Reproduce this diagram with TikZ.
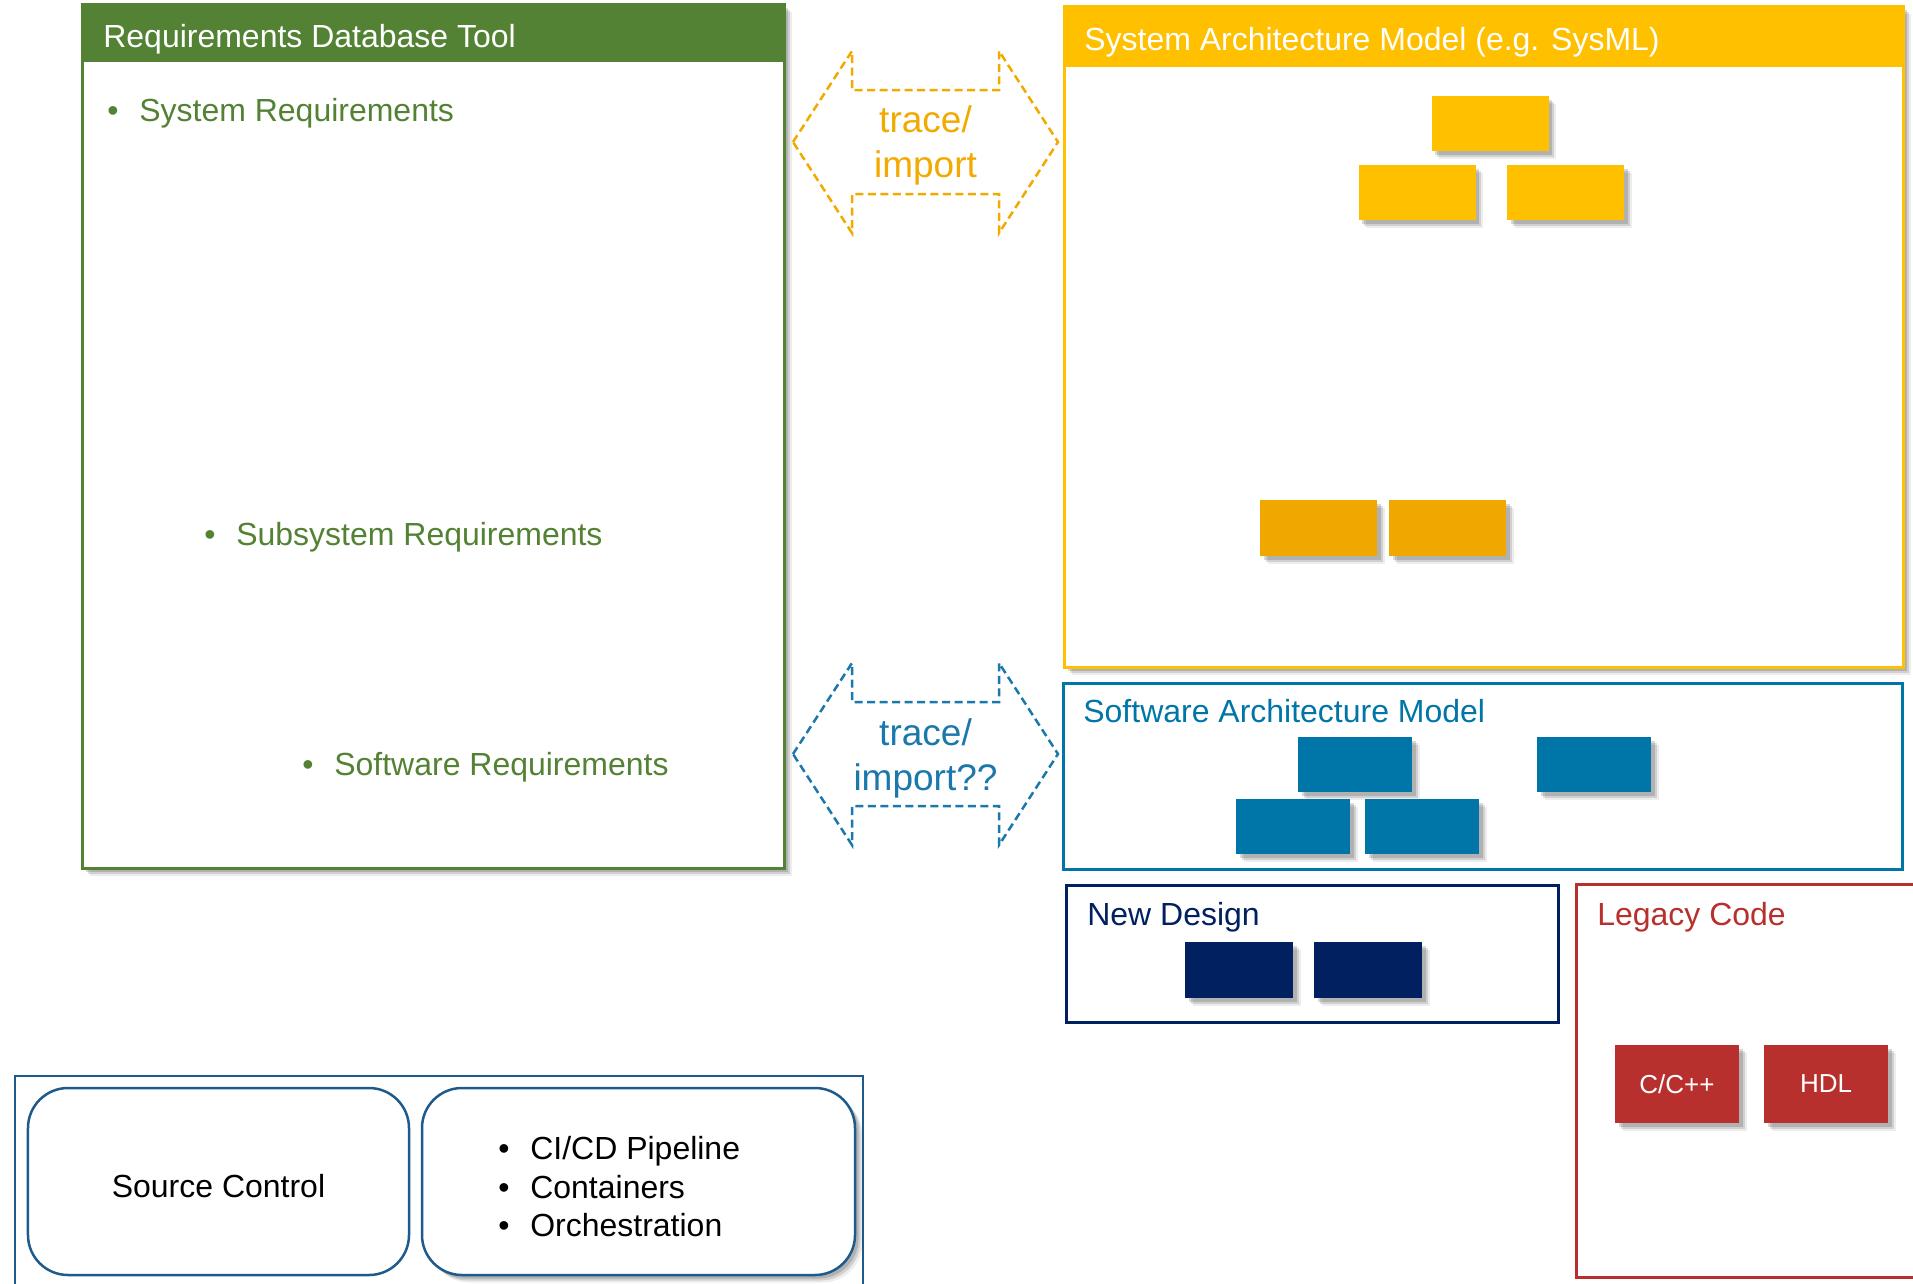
\documentclass[tikz,border=0pt]{standalone}
\usepackage{fontspec}
\setmainfont{Liberation Sans}
\usetikzlibrary{shadows}

\definecolor{reqgreen}{HTML}{548235}
\definecolor{sysyellow}{HTML}{FFC000}
\definecolor{sysorange}{HTML}{F0A800}
\definecolor{traceorange}{HTML}{F2A900}
\definecolor{swblue}{HTML}{0075A8}
\definecolor{traceblue}{HTML}{1A78AA}
\definecolor{navy}{HTML}{002060}
\definecolor{legacyred}{HTML}{B8302E}
\definecolor{opsblue}{HTML}{1F5A8C}

\newcommand{\bul}{\makebox[6.4mm][l]{\textbullet}}

\tikzset{
    softshadow/.style={
        drop shadow={shadow xshift=1.5mm, shadow yshift=-1.5mm, opacity=0.07, fill=black},
        drop shadow={shadow xshift=1.1mm, shadow yshift=-1.1mm, opacity=0.12, fill=black},
        drop shadow={shadow xshift=0.7mm, shadow yshift=-0.7mm, opacity=0.15, fill=black}},
    frame/.style={draw, line width=0.6mm, fill=white, inner sep=0pt},
    headbar/.style={inner sep=0pt, anchor=north},
    block/.style={minimum width=23.4mm, minimum height=11mm, inner sep=0pt, softshadow},
    bodytext/.style={font=\fontsize{18.2pt}{21.9pt}\selectfont, inner sep=0pt},
    tracetext/.style={font=\fontsize{21.06pt}{25.6pt}\selectfont, align=center, inner sep=0pt},
    tracearrow/.style={line width=0.5mm, dash pattern=on 1.6mm off 0.9mm, line join=miter},
}

\begin{document}
\begin{tikzpicture}[x=0.2mm, y=-0.2mm]
        \useasboundingbox (0,0) rectangle (1913,1283);

        % Requirements tool
        \node [frame, draw=reqgreen, softshadow,
            minimum width=140.2mm,
            minimum height=172.6mm,
        ] (reqtool) at (433.5,436.5) {};
        \node [headbar, fill=reqgreen,
            minimum width=140.2mm,
            minimum height=11.6mm,
        ] (reqhead) at (reqtool.north) {};
        \node [bodytext, white, anchor=base west] (reqtitle) at (103,47) {Requirements Database Tool};
        \node [bodytext, reqgreen, anchor=base west] (sysreq) at (107,121) {\bul System Requirements};
        \node [bodytext, reqgreen, anchor=base west] (subreq) at (204,545) {\bul Subsystem Requirements};
        \node [bodytext, reqgreen, anchor=base west] (swreq) at (302,775) {\bul Software Requirements};

        % System architecture
        \node [frame, draw=sysyellow, softshadow,
            minimum width=167.8mm,
            minimum height=132mm,
        ] (sysarch) at (1483.5,337) {};
        \node [headbar, fill=sysyellow,
            minimum width=167.8mm,
            minimum height=12.2mm,
        ] (syshead) at (sysarch.north) {};
        \node [bodytext, white, anchor=base west] (systitle) at (1084,50) {System Architecture Model (e.g. SysML)};
        \node [block, fill=sysyellow] (sysblocka) at (1490,123.5) {};
        \node [block, fill=sysyellow] (sysblockb) at (1417,192.5) {};
        \node [block, fill=sysyellow] (sysblockc) at (1565.5,192.5) {};
        \node [block, fill=sysorange, minimum height=11.2mm] (subblocka) at (1318.5,528) {};
        \node [block, fill=sysorange, minimum height=11.2mm] (subblockb) at (1447.5,528) {};

        % Software architecture
        \node [frame, draw=swblue,
            minimum width=167.8mm,
            minimum height=37.2mm,
        ] (swarch) at (1482.5,776) {};
        \node [bodytext, swblue, anchor=base west] (swtitle) at (1083,722) {Software Architecture Model};
        \node [block, fill=swblue, minimum width=22.8mm] (swblocka) at (1355,764.5) {};
        \node [block, fill=swblue, minimum width=22.8mm] (swblockb) at (1594,764.5) {};
        \node [block, fill=swblue, minimum width=22.8mm] (swblockc) at (1293,826.5) {};
        \node [block, fill=swblue, minimum width=22.8mm] (swblockd) at (1422,826.5) {};

        % New design
        \node [frame, draw=navy,
            minimum width=98.4mm,
            minimum height=27.4mm,
        ] (newdesign) at (1312,953.5) {};
        \node [bodytext, navy, anchor=base west] (newtitle) at (1087,925) {New Design};
        \node [block, fill=navy, minimum width=21.6mm, minimum height=11.2mm] (newblocka) at (1239,970) {};
        \node [block, fill=navy, minimum width=21.6mm, minimum height=11.2mm] (newblockb) at (1368,970) {};

        % Legacy code
        \node [frame, draw=legacyred,
            minimum width=70.8mm,
            minimum height=78.6mm,
        ] (legacy) at (1753,1080.5) {};
        \node [bodytext, legacyred, anchor=base west] (legacytitle) at (1597,925) {Legacy Code};
        \node [block, fill=legacyred, minimum width=24.8mm, minimum height=15.6mm,
            text=white, font=\fontsize{14.8pt}{17pt}\selectfont] (ccode) at (1677,1084) {C/C++};
        \node [block, fill=legacyred, minimum width=24.8mm, minimum height=15.6mm,
            text=white, font=\fontsize{14.8pt}{17pt}\selectfont] (hdl) at (1826,1084) {HDL};

        % DevOps
        \node [draw=opsblue, line width=0.4mm,
            minimum width=169.6mm,
            minimum height=43.8mm,
        ] (devops) at (439,1185.5) {};
        \node [bodytext, draw=opsblue, line width=0.5mm, fill=white, rounded corners=8mm,
            text height=6.2mm, text depth=0pt,
            minimum width=76.2mm,
            minimum height=37.4mm,
        ] (srcctrl) at (218.5,1181.5) {Source Control};
        \node [draw=opsblue, line width=0.5mm, fill=white, rounded corners=8mm, softshadow,
            minimum width=86.6mm,
            minimum height=37.4mm,
        ] (cicd) at (638.5,1181.5) {};
        \node [bodytext, anchor=north west, align=left] (cicdlist) at (498,1136)
            {\bul CI/CD Pipeline\\\bul Containers\\\bul Orchestration};

        % trace arrows
        \foreach \yc/\col in {142/traceorange, 754/traceblue}
            \draw[tracearrow, draw=\col] (793,\yc) -- (852,\yc-91) -- (852,\yc-52) -- (999,\yc-52)
                -- (999,\yc-91) -- (1058,\yc) -- (999,\yc+91) -- (999,\yc+52)
                -- (852,\yc+52) -- (852,\yc+91) -- cycle;
        \node [tracetext, traceorange] (tracesys) at (925.5,145) {trace/\\import};
        \node [tracetext, traceblue] (tracesw) at (925.5,758) {trace/\\import??};
\end{tikzpicture}
\end{document}
